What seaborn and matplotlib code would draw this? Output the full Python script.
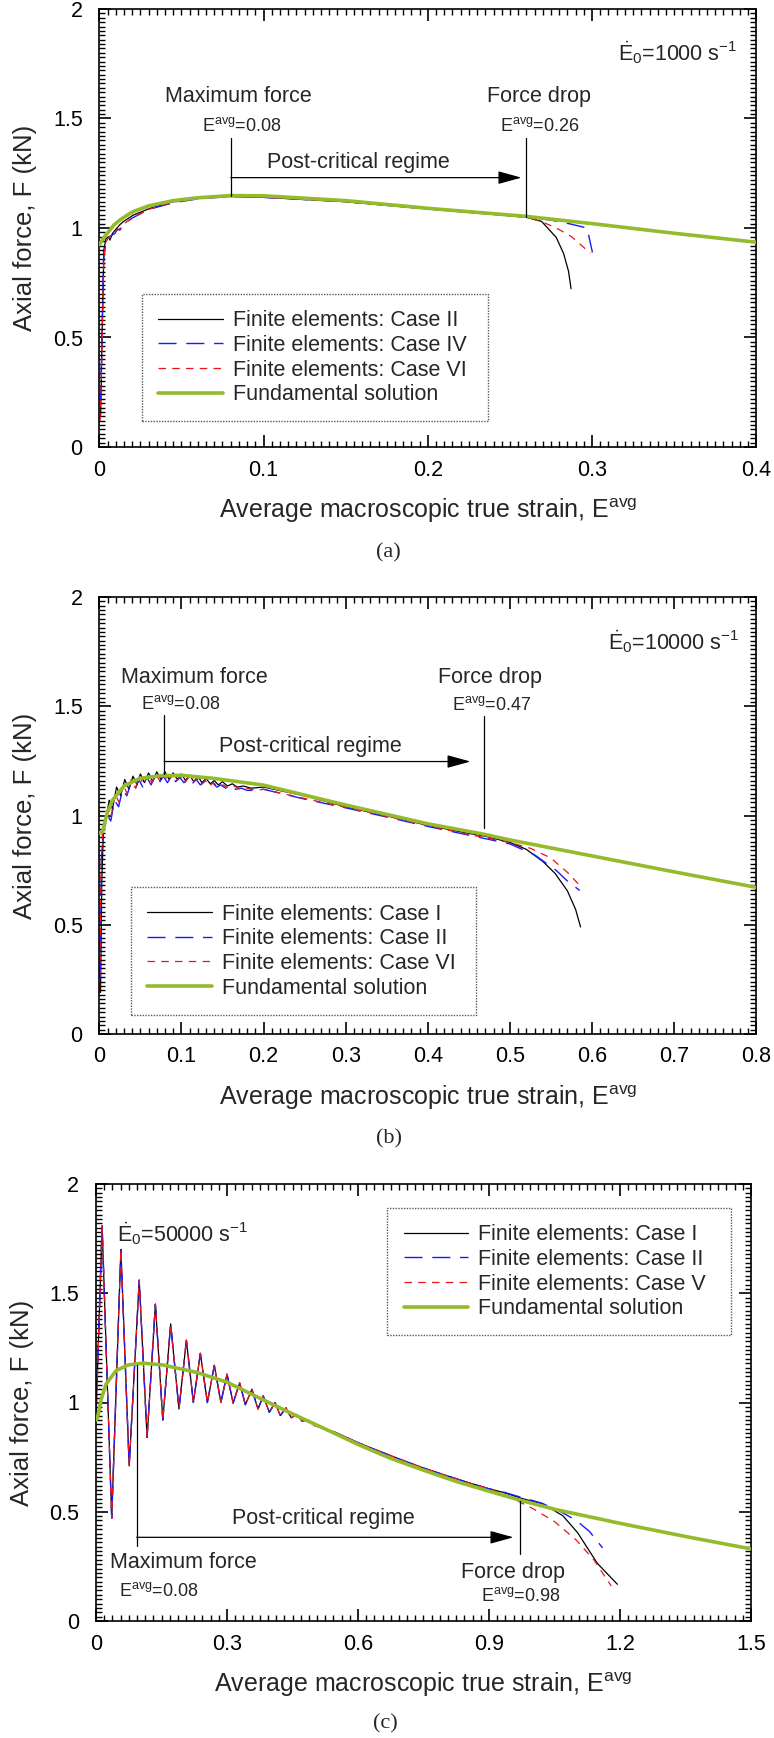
import matplotlib
matplotlib.use('Agg')
import matplotlib.pyplot as plt
import numpy as np
import seaborn as sns
from matplotlib.ticker import MultipleLocator, FuncFormatter

sns.set_theme(style='ticks')
plt.rcParams['font.family'] = ['Liberation Sans', 'DejaVu Sans']
plt.rcParams['mathtext.fontset'] = 'custom'
plt.rcParams['mathtext.rm'] = 'Liberation Sans'
plt.rcParams['mathtext.it'] = 'Liberation Sans:italic'
plt.rcParams['mathtext.bf'] = 'Liberation Sans:bold'

# Colours of the four series.
black = '#000000'
blue = '#1a1aff'
red = '#e8141a'
green = '#94bb2c'

# ---------------- Panel (a): 1000 s^-1 ----------------
a_fund_strain = [0.0, 0.0036, 0.0065, 0.0089, 0.0126, 0.0179, 0.0207, 0.030, 0.045, 0.060,
                 0.080, 0.100, 0.150, 0.200, 0.260, 0.300, 0.350, 0.400]
a_fund_force = [0.924, 0.965, 0.991, 1.014, 1.037, 1.063, 1.075, 1.101, 1.125, 1.138,
                1.148, 1.147, 1.125, 1.090, 1.053, 1.020, 0.976, 0.935]
a_case2_strain = [0.0008, 0.0018, 0.0028, 0.004, 0.0055, 0.0065, 0.008, 0.0096, 0.0125, 0.0146,
                  0.0207, 0.0309, 0.045, 0.0613, 0.08, 0.10, 0.15, 0.20, 0.24, 0.26,
                  0.2693, 0.2782, 0.2827, 0.2857, 0.2872]
a_case2_force = [0.14, 0.55, 0.90, 0.95, 0.96, 0.945, 0.975, 0.99, 1.015, 1.029,
                 1.059, 1.09, 1.12, 1.136, 1.144, 1.14, 1.12, 1.087, 1.062, 1.049,
                 1.03, 0.957, 0.883, 0.802, 0.723]
a_case4_strain = [0.0006, 0.0015, 0.0025, 0.004, 0.006, 0.0095, 0.011, 0.0125, 0.015, 0.02,
                  0.03, 0.045, 0.06, 0.08, 0.10, 0.15, 0.20, 0.26, 0.275, 0.287,
                  0.297, 0.299, 0.3008]
a_case4_force = [0.20, 0.45, 0.85, 0.935, 0.96, 0.975, 0.995, 0.99, 1.02, 1.045,
                 1.085, 1.115, 1.133, 1.144, 1.14, 1.12, 1.087, 1.05, 1.036, 1.018,
                 1.0, 0.93, 0.87]
a_case6_strain = [0.0005, 0.0015, 0.0025, 0.0035, 0.006, 0.008, 0.010, 0.013, 0.016, 0.02,
                  0.03, 0.045, 0.06, 0.08, 0.10, 0.15, 0.20, 0.26, 0.2693, 0.2785,
                  0.2876, 0.2967, 0.299]
a_case6_force = [0.12, 0.40, 0.80, 0.93, 0.96, 0.97, 0.985, 1.0, 1.025, 1.045,
                 1.085, 1.118, 1.134, 1.144, 1.14, 1.12, 1.087, 1.05, 1.029, 0.999,
                 0.96, 0.90, 0.885]

# ---------------- Panel (b): 10000 s^-1 ----------------
b_fund_strain = [0.0, 0.004, 0.0087, 0.0158, 0.0303, 0.0497, 0.075, 0.100, 0.139, 0.200,
                 0.300, 0.400, 0.466, 0.500, 0.600, 0.700, 0.800]
b_fund_force = [0.92, 0.925, 1.000, 1.069, 1.136, 1.170, 1.182, 1.184, 1.170, 1.139,
                1.048, 0.962, 0.916, 0.888, 0.815, 0.742, 0.671]
b_case1_strain = [0.0015, 0.003, 0.005, 0.008, 0.012, 0.016, 0.021, 0.026, 0.031, 0.036,
                  0.041, 0.046, 0.050, 0.055, 0.060, 0.065, 0.070, 0.075, 0.080, 0.085,
                  0.090, 0.095, 0.100, 0.105, 0.110, 0.115, 0.120, 0.125, 0.130, 0.135,
                  0.140, 0.145, 0.150, 0.156, 0.162, 0.168, 0.175, 0.185, 0.200, 0.250,
                  0.300, 0.350, 0.400, 0.450, 0.470, 0.500, 0.520, 0.540, 0.555, 0.570,
                  0.580, 0.586]
b_case1_force = [0.19, 0.70, 0.93, 0.98, 1.07, 1.03, 1.13, 1.09, 1.165, 1.12,
                 1.18, 1.14, 1.19, 1.15, 1.195, 1.155, 1.20, 1.165, 1.20, 1.165,
                 1.195, 1.165, 1.19, 1.16, 1.185, 1.155, 1.18, 1.15, 1.17, 1.145,
                 1.16, 1.14, 1.155, 1.135, 1.145, 1.13, 1.135, 1.125, 1.13, 1.09,
                 1.04, 0.998, 0.955, 0.918, 0.905, 0.877, 0.845, 0.79, 0.735, 0.655,
                 0.57, 0.49]
b_case2_strain = [0.001, 0.0025, 0.0045, 0.0075, 0.010, 0.014, 0.0185, 0.0235, 0.0285, 0.0335,
                  0.0385, 0.0435, 0.048, 0.053, 0.058, 0.063, 0.068, 0.073, 0.078, 0.083,
                  0.088, 0.093, 0.098, 0.103, 0.108, 0.113, 0.118, 0.123, 0.128, 0.133,
                  0.138, 0.143, 0.148, 0.154, 0.160, 0.166, 0.173, 0.180, 0.190, 0.200,
                  0.250, 0.300, 0.350, 0.400, 0.450, 0.500, 0.530, 0.556, 0.570, 0.585]
b_case2_force = [0.25, 0.80, 0.92, 0.96, 1.00, 0.975, 1.07, 1.04, 1.12, 1.09,
                 1.15, 1.115, 1.165, 1.13, 1.175, 1.14, 1.18, 1.15, 1.18, 1.15,
                 1.18, 1.155, 1.175, 1.15, 1.17, 1.145, 1.165, 1.14, 1.155, 1.135,
                 1.15, 1.13, 1.14, 1.125, 1.135, 1.12, 1.125, 1.115, 1.115, 1.12,
                 1.075, 1.035, 0.993, 0.95, 0.91, 0.87, 0.82, 0.75, 0.70, 0.657]
b_case6_strain = [0.0005, 0.002, 0.004, 0.007, 0.0105, 0.0145, 0.019, 0.024, 0.029, 0.034,
                  0.039, 0.044, 0.049, 0.054, 0.059, 0.064, 0.069, 0.074, 0.079, 0.084,
                  0.089, 0.094, 0.099, 0.104, 0.109, 0.114, 0.119, 0.124, 0.129, 0.134,
                  0.139, 0.145, 0.151, 0.157, 0.164, 0.172, 0.180, 0.190, 0.200, 0.250,
                  0.300, 0.350, 0.400, 0.450, 0.500, 0.525, 0.550, 0.570, 0.585]
b_case6_force = [0.20, 0.75, 0.93, 0.97, 1.04, 1.00, 1.10, 1.06, 1.14, 1.10,
                 1.165, 1.125, 1.18, 1.14, 1.185, 1.15, 1.19, 1.155, 1.19, 1.155,
                 1.185, 1.155, 1.18, 1.15, 1.175, 1.15, 1.17, 1.14, 1.16, 1.135,
                 1.15, 1.13, 1.14, 1.125, 1.135, 1.12, 1.125, 1.115, 1.12, 1.078,
                 1.037, 0.996, 0.953, 0.913, 0.876, 0.85, 0.805, 0.74, 0.68]

# ---------------- Panel (c): 50000 s^-1 ----------------
c_fund_strain = [0.0, 0.003, 0.012, 0.023, 0.046, 0.074, 0.108, 0.153, 0.232, 0.300,
                 0.380, 0.453, 0.527, 0.600, 0.674, 0.753, 0.826, 0.900, 0.973, 1.053,
                 1.200, 1.352, 1.500]
c_fund_force = [0.92, 0.927, 1.015, 1.084, 1.146, 1.172, 1.180, 1.172, 1.137, 1.093,
                1.015, 0.945, 0.877, 0.808, 0.745, 0.688, 0.638, 0.594, 0.552, 0.510,
                0.447, 0.386, 0.330]
# oscillating part, common to the three finite element cases
c_fe_strain = [0.0, 0.014, 0.036, 0.057, 0.076, 0.099, 0.117, 0.136, 0.153, 0.171,
               0.190, 0.207, 0.223, 0.239, 0.255, 0.271, 0.286, 0.300, 0.314, 0.329,
               0.342, 0.357, 0.371, 0.383, 0.397, 0.410, 0.422, 0.435, 0.447, 0.460,
               0.472, 0.485, 0.500, 0.550, 0.600, 0.650, 0.700, 0.750, 0.800, 0.850,
               0.900]
c_fe_force = [0.93, 1.81, 0.47, 1.70, 0.71, 1.56, 0.84, 1.45, 0.92, 1.36,
              0.97, 1.285, 1.00, 1.225, 1.00, 1.17, 1.00, 1.13, 0.997, 1.09,
              0.99, 1.06, 0.97, 1.03, 0.955, 1.00, 0.94, 0.975, 0.93, 0.945,
              0.915, 0.92, 0.895, 0.862, 0.816, 0.776, 0.737, 0.700, 0.667, 0.635,
              0.605]
c_case1_strain = [0.900, 0.930, 0.973, 1.024, 1.069, 1.103, 1.148, 1.194]
c_case1_force = [0.605, 0.59, 0.562, 0.535, 0.482, 0.404, 0.264, 0.168]
c_case2_strain = [0.900, 0.930, 0.970, 1.020, 1.060, 1.100, 1.130, 1.160]
c_case2_force = [0.605, 0.592, 0.568, 0.54, 0.505, 0.46, 0.41, 0.335]
c_case5_strain = [0.900, 0.930, 0.970, 1.000, 1.050, 1.100, 1.140, 1.180]
c_case5_force = [0.60, 0.582, 0.545, 0.515, 0.455, 0.37, 0.28, 0.16]

# Annotation values: (max-force line, force-drop line)
a_marks = [0.08, 0.26]
b_marks = [0.079, 0.468]
c_marks = [0.093, 0.971]


def draw_series(ax, xs, ys, color, lw, ls, z=2):
    sns.lineplot(x=xs, y=ys, ax=ax, color=color, lw=lw, linestyle=ls,
                 estimator=None, sort=False, zorder=z)


def style_axes(ax, xmax, xmajor, xminor, xlabel_step):
    ax.set_xlim(0, xmax)
    ax.set_ylim(0, 2)
    ax.xaxis.set_major_locator(MultipleLocator(xmajor))
    ax.xaxis.set_minor_locator(MultipleLocator(xminor))
    ax.yaxis.set_major_locator(MultipleLocator(0.5))
    ax.yaxis.set_minor_locator(MultipleLocator(0.02))
    fmt = FuncFormatter(lambda v, p: '{:g}'.format(round(v, 3))
                        if abs(round(v / xlabel_step) * xlabel_step - v) < 1e-6 else '')
    ax.xaxis.set_major_formatter(fmt)
    ax.yaxis.set_major_formatter(FuncFormatter(lambda v, p: '{:g}'.format(v)))
    ax.tick_params(which='both', direction='in', top=True, right=True,
                   color='black', width=1.1)
    ax.tick_params(which='major', length=8.5, width=1.2, labelsize=15.5, labelcolor='black')
    ax.tick_params(which='minor', length=4.0, width=1.0)
    ax.tick_params(axis='y', which='major', pad=12)
    ax.tick_params(axis='x', which='major', pad=9)
    for s in ax.spines.values():
        s.set_linewidth(1.2)
        s.set_color('black')
    ax.set_xlabel(r'Average macroscopic true strain, E$^{\mathrm{avg}}$', fontsize=18)
    ax.set_ylabel('Axial force, F (kN)', fontsize=18.5)
    ax.xaxis.set_label_coords(0.5, -64 / 438)
    ax.xaxis.label.set_va('center')
    ax.yaxis.set_label_coords(-74 / 657, 0.5)
    ax.yaxis.label.set_va('center')


def add_legend(ax, labels, x0, top, w):
    handles = ax.get_lines()[:4]
    leg = ax.legend(handles, labels, loc='upper left', bbox_to_anchor=(x0, top, w, 0),
                    mode='expand', fontsize=15.5, handlelength=3.0, handletextpad=0.47,
                    labelspacing=0.17, borderpad=0.75, borderaxespad=0, fancybox=False,
                    framealpha=1, edgecolor='0.35')
    fr = leg.get_frame()
    fr.set_linestyle((0, (1, 1)))
    fr.set_linewidth(1.0)


def annotate(ax, m1, m2, lines, arrow_y, post_xy, texts):
    (l1_top, l1_bot), (l2_top, l2_bot) = lines
    ax.plot([m1, m1], [l1_bot, l1_top], color='black', lw=0.9, zorder=4)
    ax.plot([m2, m2], [l2_bot, l2_top], color='black', lw=0.9, zorder=4)
    ax.annotate('', xy=(arrow_y[1], arrow_y[0]), xytext=(m1, arrow_y[0]),
                arrowprops=dict(arrowstyle='-|>,head_length=0.8,head_width=0.22',
                                mutation_scale=18, color='black', lw=0.9,
                                shrinkA=0, shrinkB=0), zorder=4)
    ax.text(post_xy[0], post_xy[1], 'Post-critical regime', fontsize=15.5,
            ha='center', va='center')
    for (tx, ty, s, fs) in texts:
        ax.text(tx, ty, s, fontsize=fs, ha='center', va='center')


fig = plt.figure(figsize=(7.74, 17.38), dpi=100)
W, H = 774, 1738

# ---- (a)
ax = fig.add_axes([99.3 / W, 1 - 447 / H, 657 / W, 438 / H])
draw_series(ax, a_case2_strain, a_case2_force, black, 0.9, '-')
draw_series(ax, a_case4_strain, a_case4_force, blue, 1.0, (0, (13, 7)))
draw_series(ax, a_case6_strain, a_case6_force, red, 0.9, (0, (6, 5)))
draw_series(ax, a_fund_strain, a_fund_force, green, 2.6, '-', z=3)
style_axes(ax, 0.4, 0.1, 0.005, 0.1)
add_legend(ax, ['Finite elements: Case II', 'Finite elements: Case IV',
                'Finite elements: Case VI', 'Fundamental solution'], 0.065, 0.349, 0.526)
annotate(ax, a_marks[0], a_marks[1], [(1.413, 1.148), (1.413, 1.052)], (1.23, 0.257),
         (0.158, 1.30),
         [(0.0848, 1.60, 'Maximum force', 15.5),
          (0.0867, 1.467, r'E$^{\mathrm{avg}}$=0.08', 13),
          (0.268, 1.60, 'Force drop', 15.5),
          (0.268, 1.467, r'E$^{\mathrm{avg}}$=0.26', 13),
          (0.352, 1.80, r'$\dot{\mathrm{E}}_{\mathrm{0}}$=1000 s$^{\mathrm{-1}}$', 15.5)])
fig.text(388.6 / W, 1 - 553 / H, '(a)', fontsize=16, family='Liberation Serif',
         ha='center', va='center')

# ---- (b)
ax = fig.add_axes([99.3 / W, 1 - 1034 / H, 657 / W, 437 / H])
draw_series(ax, b_case1_strain, b_case1_force, black, 0.9, '-')
draw_series(ax, b_case2_strain, b_case2_force, blue, 1.0, (0, (13, 7)))
draw_series(ax, b_case6_strain, b_case6_force, red, 0.9, (0, (6, 5)))
draw_series(ax, b_fund_strain, b_fund_force, green, 2.6, '-', z=3)
style_axes(ax, 0.8, 0.1, 0.01, 0.1)
add_legend(ax, ['Finite elements: Case I', 'Finite elements: Case II',
                'Finite elements: Case VI', 'Fundamental solution'], 0.0486, 0.3355, 0.525)
annotate(ax, b_marks[0], b_marks[1], [(1.458, 1.191), (1.455, 0.942)], (1.247, 0.452),
         (0.257, 1.314),
         [(0.116, 1.633, 'Maximum force', 15.5),
          (0.0997, 1.509, r'E$^{\mathrm{avg}}$=0.08', 13),
          (0.476, 1.633, 'Force drop', 15.5),
          (0.478, 1.504, r'E$^{\mathrm{avg}}$=0.47', 13),
          (0.699, 1.797, r'$\dot{\mathrm{E}}_{\mathrm{0}}$=10000 s$^{\mathrm{-1}}$', 15.5)])
fig.text(388.6 / W, 1 - 1139 / H, '(b)', fontsize=16, family='Liberation Serif',
         ha='center', va='center')

# ---- (c)
ax = fig.add_axes([96 / W, 1 - 1621 / H, 655 / W, 437 / H])
draw_series(ax, c_fe_strain + c_case1_strain[1:], c_fe_force + c_case1_force[1:], black, 0.9, '-')
draw_series(ax, c_fe_strain + c_case2_strain[1:], c_fe_force + c_case2_force[1:], blue, 1.0, (0, (13, 7)))
draw_series(ax, c_fe_strain + c_case5_strain[1:], c_fe_force + c_case5_force[1:], red, 0.9, (0, (6, 5)))
draw_series(ax, c_fund_strain, c_fund_force, green, 2.6, '-', z=3)
style_axes(ax, 1.5, 0.3, 0.01875, 0.3)
add_legend(ax, ['Finite elements: Case I', 'Finite elements: Case II',
                'Finite elements: Case V', 'Fundamental solution'], 0.445, 0.945, 0.524)
annotate(ax, c_marks[0], c_marks[1], [(1.172, 0.342), (0.55, 0.308)], (0.383, 0.956),
         (0.521, 0.468),
         [(0.201, 0.267, 'Maximum force', 15.5),
          (0.144, 0.138, r'E$^{\mathrm{avg}}$=0.08', 13),
          (0.956, 0.224, 'Force drop', 15.5),
          (0.973, 0.115, r'E$^{\mathrm{avg}}$=0.98', 13),
          (0.199, 1.774, r'$\dot{\mathrm{E}}_{\mathrm{0}}$=50000 s$^{\mathrm{-1}}$', 15.5)])
fig.text(385 / W, 1 - 1724 / H, '(c)', fontsize=16, family='Liberation Serif',
         ha='center', va='center')

fig.savefig('out.png', dpi=100, facecolor='white')
